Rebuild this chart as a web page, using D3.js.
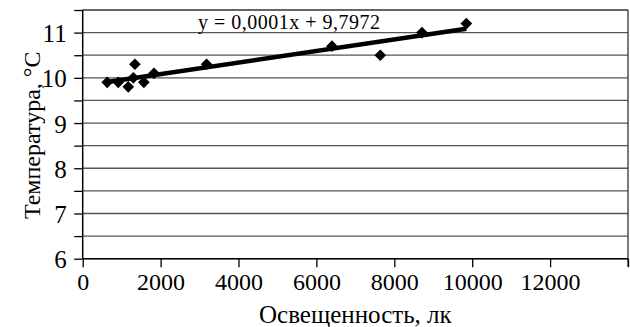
<!DOCTYPE html>
<html><head><meta charset="utf-8">
<script src="https://cdn.jsdelivr.net/npm/d3@7"></script>
</head><body style="margin:0;background:#fff">
<script>
const illuminance = [630, 913, 1170, 1340, 1300, 1570, 1830, 3180, 6400, 7640, 8710, 9850];
const temperature = [9.9, 9.9, 9.8, 10.3, 10.0, 9.9, 10.1, 10.3, 10.7, 10.5, 11.0, 11.2];
const xTicks = [0, 2000, 4000, 6000, 8000, 10000, 12000];
const yTicks = [6, 7, 8, 9, 10, 11];
const yGrid = [6, 6.5, 7, 7.5, 8, 8.5, 9, 9.5, 10, 10.5, 11, 11.5];
const xTickMarks = [0, 2000, 4000, 6000, 8000, 10000, 12000, 14000];
const equationText = "y = 0,0001x + 9,7972";
const xTitle = "Освещенность, лк";
const yTitle = "Температура, °C";

const FONT = '"Liberation Serif"';
const W = 630, H = 327;
const L = 82.7, R = 628, T = 10, B = 258.7;
const svg = d3.select("body").append("svg").attr("width", W).attr("height", H).style("display", "block");
const x = d3.scaleLinear().domain([0, 14000]).range([L, R]);
const y = d3.scaleLinear().domain([6, 11.5]).range([B, T]);

// gridlines
svg.append("g").selectAll("line").data(yGrid).join("line")
  .attr("x1", L).attr("x2", R).attr("y1", d => y(d)).attr("y2", d => y(d))
  .attr("stroke", d => d === 11.5 ? "#333" : "#555").attr("stroke-width", 1.3);
// right border
svg.append("line").attr("x1", R).attr("x2", R).attr("y1", T).attr("y2", B + 8)
  .attr("stroke", "#333").attr("stroke-width", 1.3);

// y axis
const yAxis = d3.axisLeft(y).tickValues(yGrid).tickSize(8.5)
  .tickFormat(d => yTicks.includes(d) ? d : "");
const gy = svg.append("g").attr("transform", `translate(${L},0)`).call(yAxis);
gy.attr("font-family", FONT).attr("font-size", 25);
gy.select(".domain").attr("stroke", "#000").attr("stroke-width", 1.5).attr("d", `M0,${T}V${B}`);
gy.selectAll(".tick line").attr("stroke", "#000").attr("stroke-width", 1.3);
gy.selectAll(".tick text").attr("x", -16).attr("dy", "0.36em")
  .attr("font-family", FONT).attr("font-size", 25).attr("fill", "#000");

// x axis
const xAxis = d3.axisBottom(x).tickValues(xTickMarks).tickSize(8.5)
  .tickFormat(d => xTicks.includes(d) ? d : "");
const gx = svg.append("g").attr("transform", `translate(0,${B})`).call(xAxis);
gx.attr("font-family", FONT).attr("font-size", 24);
gx.select(".domain").attr("stroke", "#000").attr("stroke-width", 1.5).attr("d", `M${L},0H${R}`);
gx.selectAll(".tick line").attr("stroke", "#000").attr("stroke-width", 1.3);
gx.selectAll(".tick text").attr("y", 14).attr("dy", "0.71em")
  .attr("font-family", FONT).attr("font-size", 24).attr("fill", "#000");

// regression line
const n = illuminance.length;
const mx = d3.mean(illuminance), my = d3.mean(temperature);
let sxy = 0, sxx = 0;
for (let i = 0; i < n; i++) { sxy += (illuminance[i]-mx)*(temperature[i]-my); sxx += (illuminance[i]-mx)**2; }
const slope = sxy / sxx, intercept = my - slope * mx;
const [x0, x1] = d3.extent(illuminance);
svg.append("line").attr("x1", x(x0)).attr("y1", y(intercept + slope*x0))
  .attr("x2", x(x1)).attr("y2", y(intercept + slope*x1))
  .attr("stroke", "#000").attr("stroke-width", 4.5).attr("stroke-linecap", "butt");

// points (diamonds)
svg.append("g").selectAll("path").data(illuminance).join("path")
  .attr("d", d3.symbol().type(d3.symbolSquare).size(68)())
  .attr("transform", (d, i) => `translate(${x(d)},${y(temperature[i])}) rotate(45)`)
  .attr("fill", "#000");

// equation
svg.append("text").attr("x", 198).attr("y", 29).attr("font-family", FONT).attr("font-size", 20)
  .attr("letter-spacing", 0.5).text(equationText);

// titles
svg.append("text").attr("x", (L+R)/2).attr("y", 323).attr("text-anchor", "middle")
  .attr("font-family", FONT).attr("font-size", 25).text(xTitle);
svg.append("text").attr("transform", `translate(40,${(T+B)/2 + 1}) rotate(-90)`).attr("text-anchor", "middle")
  .attr("font-family", FONT).attr("font-size", 24).text(yTitle);
</script>
</body></html>
